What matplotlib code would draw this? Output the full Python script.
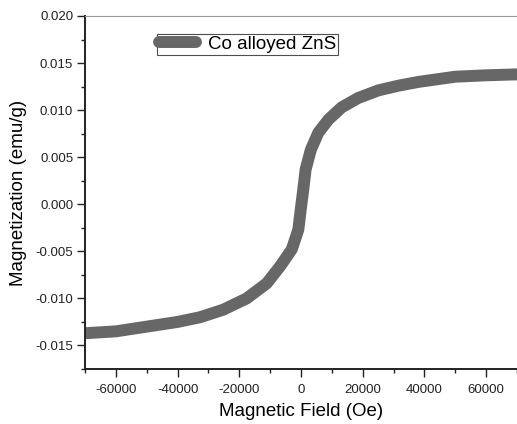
import matplotlib
matplotlib.use("Agg")
import matplotlib.pyplot as plt
from matplotlib.ticker import MultipleLocator

# Data
field = [-70000, -60000, -50000, -40000, -32700, -25200, -17600, -11100, -6800,
         -3000, -870, -100, 750, 1500, 3200, 5600, 8900, 13200, 18600, 25100,
         31600, 38100, 50000, 60000, 70000]
magnetization = [-0.0137, -0.0135, -0.0130, -0.0125, -0.0120, -0.0112, -0.0100,
                 -0.0084, -0.0066, -0.0048, -0.0027, -0.0006, 0.0016, 0.0037,
                 0.0058, 0.0076, 0.0090, 0.0103, 0.0113, 0.0121, 0.0126, 0.0130,
                 0.01355, 0.0137, 0.0138]
series_label = "Co alloyed ZnS"
x_ticks = [-60000, -40000, -20000, 0, 20000, 40000, 60000]
y_ticks = [-0.015, -0.010, -0.005, 0.000, 0.005, 0.010, 0.015, 0.020]

plt.rcParams['font.family'] = ['Liberation Sans', 'DejaVu Sans']

fig = plt.figure(figsize=(5.17, 4.24), dpi=100)
ax = fig.add_axes([85/517, 55/424, 1 - 85/517, (369-16)/424])

ax.plot(field, magnetization, color='#676767', lw=8.6, solid_capstyle='round',
        solid_joinstyle='round', label=series_label)

ax.set_xlim(-70000, 70000)
ax.set_ylim(-0.0175, 0.020)
ax.set_xticks(x_ticks)
ax.set_xticklabels([str(v) for v in x_ticks])
ax.set_yticks(y_ticks)
ax.set_yticklabels([f"{v:.3f}" for v in y_ticks])
ax.xaxis.set_minor_locator(MultipleLocator(10000))
ax.yaxis.set_minor_locator(MultipleLocator(0.0025))

ax.tick_params(which='major', direction='out', length=5.5, width=1.0,
               labelsize=9.5, colors='#222222', pad=3)
ax.tick_params(which='minor', direction='out', length=2.8, width=1.0,
               colors='#222222')
ax.tick_params(axis='x', which='major', pad=5)

for s in ['left', 'bottom']:
    ax.spines[s].set_color('#222222')
    ax.spines[s].set_linewidth(1.4)
ax.spines['top'].set_color('#999999')
ax.spines['top'].set_linewidth(0.8)
ax.spines['right'].set_visible(False)

ax.set_xlabel("Magnetic Field (Oe)", fontsize=13.5, labelpad=5)
ax.set_ylabel("Magnetization (emu/g)", fontsize=13.5, labelpad=6)

leg = ax.legend(loc='upper left', bbox_to_anchor=((157-85)/432, (369-34)/353),
                frameon=True, fancybox=False, fontsize=13.5, borderpad=0.1,
                handlelength=2.0, handletextpad=0.6, borderaxespad=0)
leg.get_frame().set_edgecolor('#222222')
leg.get_frame().set_linewidth(0.8)

fig.savefig("out.png", dpi=100)
